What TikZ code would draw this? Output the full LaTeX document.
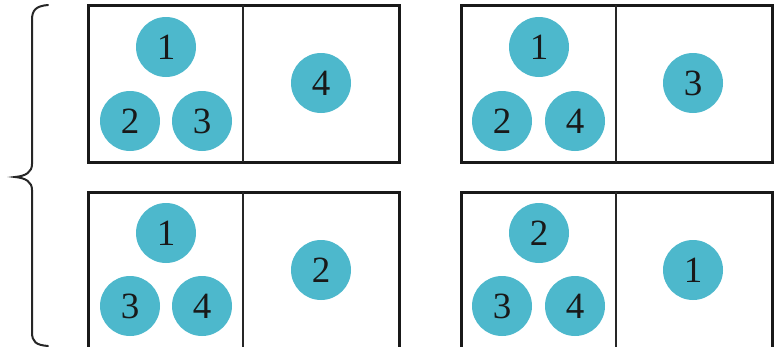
\documentclass[tikz,border=0pt]{standalone}
\usepackage{fontspec}
\setmainfont{Liberation Serif}
\begin{document}
\begin{tikzpicture}[x=1pt,y=-1pt,
  ball/.style={circle,fill=ballc,draw=none,minimum size=60pt,inner sep=0pt,
    font=\fontsize{37}{37}\selectfont,text=black!90},
  frame/.style={draw=black!90,line width=3pt},
  divider/.style={draw=black!85,line width=2pt},
  bracel/.style={draw=black!85,line width=2pt,line cap=round}]
\definecolor{ballc}{HTML}{4DB8CC}
\useasboundingbox (0,0) rectangle (778,346);
% brace
\draw[bracel] (48,5) .. controls (36,6) and (32,10) .. (32,20) -- (32,164)
  .. controls (32,172) and (26,176) .. (15,177)
  .. controls (26,178) and (32,182) .. (32,190) -- (32,332)
  .. controls (32,342) and (36,345) .. (48,346);
% boxes
\foreach \x/\y in {88/5,461/5,88/192,461/192}{
  \draw[frame] (\x,\y) rectangle ++(311,157);
  \draw[divider] (\x+155,\y) -- ++(0,157);
}
% top-left
\node[ball] (a1) at (166,47) {1};
\node[ball] (a2) at (130,121) {2};
\node[ball] (a3) at (202,121) {3};
\node[ball] (a4) at (321,83) {4};
% top-right
\node[ball] (b1) at (539,47) {1};
\node[ball] (b2) at (502,121) {2};
\node[ball] (b4) at (575,121) {4};
\node[ball] (b3) at (693,83) {3};
% bottom-left
\node[ball] (c1) at (166,233) {1};
\node[ball] (c3) at (130,306) {3};
\node[ball] (c4) at (202,306) {4};
\node[ball] (c2) at (321,270) {2};
% bottom-right
\node[ball] (d2) at (539,233) {2};
\node[ball] (d3) at (502,306) {3};
\node[ball] (d4) at (575,306) {4};
\node[ball] (d1) at (693,270) {1};
\end{tikzpicture}
\end{document}
